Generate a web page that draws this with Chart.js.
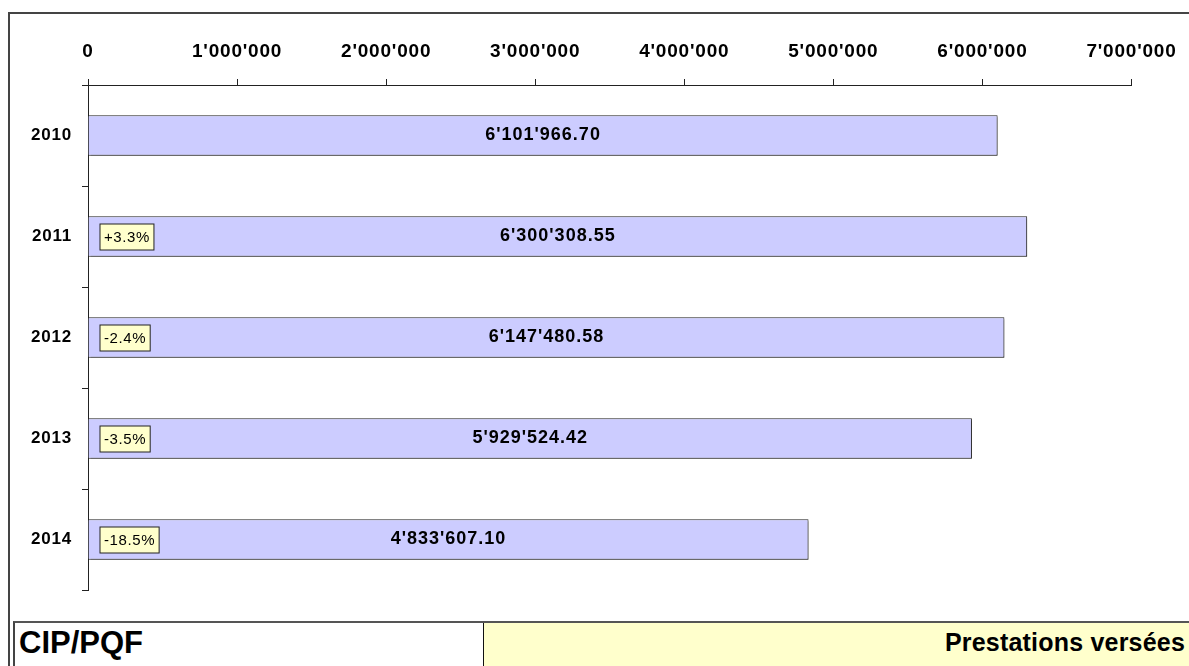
<!DOCTYPE html>
<html lang="fr">
<head>
<meta charset="UTF-8">
<title>CIP/PQF - Prestations versées</title>
<script src="https://cdn.jsdelivr.net/npm/chart.js"></script>
<style>
    body { margin: 0; background: #fff; font-family: "Liberation Sans", Arial, sans-serif; }
    #page { position: relative; width: 1189px; height: 666px; overflow: hidden; }
    #frame { position: absolute; left: 8px; top: 12px; width: 1200px; height: 700px;
             border-top: 2px solid #444; border-left: 2px solid #444; }
    #chart { position: absolute; left: 0; top: 0; }
    #footer { position: absolute; left: 13px; top: 621px; width: 1200px; height: 60px;
              border-top: 2px solid #555; border-left: 2px solid #444; display: flex; }
    #footer .left { width: 468px; background: #fff; font-weight: bold; font-size: 31px;
                    padding: 2px 0 0 4px; box-sizing: border-box; }
    #footer .right { width: 706px; background: #ffffcc; border-left: 1px solid #111;
                     font-weight: bold; font-size: 25px; letter-spacing: 0.2px; text-align: right;
                     padding: 5px 4px 0 0; box-sizing: border-box; }
</style>
</head>
<body>
<div id="page">
    <div id="frame"></div>
    <canvas id="chart" width="1189" height="666"></canvas>
    <div id="footer">
        <div class="left">CIP/PQF</div>
        <div class="right">Prestations versées</div>
    </div>
</div>

<script>
    // values
    const years = ['2010', '2011', '2012', '2013', '2014'];
    const amounts = [6101966.70, 6300308.55, 6147480.58, 5929524.42, 4833607.10];
    const changes = ['', '+3.3%', '-2.4%', '-3.5%', '-18.5%'];
    const axisTicks = [0, 1000000, 2000000, 3000000, 4000000, 5000000, 6000000, 7000000];

    // swiss style thousands: 6'101'966.70
    function swiss(v, dec) {
        const parts = v.toFixed(dec).split('.');
        parts[0] = parts[0].replace(/\B(?=(\d{3})+(?!\d))/g, "'");
        return parts.join('.');
    }

    // the original text is drawn a bit wide, spread the letters a little
    const spacingPlugin = {
        id: 'spacing',
        beforeDraw(chart) { chart.ctx.letterSpacing = '0.8px'; }
    };

    // bar shadow
    const shadowPlugin = {
        id: 'barShadow',
        beforeDatasetDraw(chart) {
            const ctx = chart.ctx;
            ctx.save();
            ctx.shadowColor = 'rgba(0,0,0,0.25)';
            ctx.shadowOffsetX = 2;
            ctx.shadowOffsetY = 2;
        },
        afterDatasetDraw(chart) {
            chart.ctx.restore();
        }
    };

    // value in the middle of the bar + yellow change box at its left
    const labelPlugin = {
        id: 'barLabels',
        afterDatasetsDraw(chart) {
            const ctx = chart.ctx;
            const meta = chart.getDatasetMeta(0);
            ctx.save();
            meta.data.forEach((bar, i) => {
                const mid = (bar.base + bar.x) / 2;
                ctx.letterSpacing = '1px';
                ctx.font = 'bold 18px "Liberation Sans", Arial';
                ctx.fillStyle = '#000';
                ctx.textAlign = 'center';
                ctx.textBaseline = 'middle';
                ctx.fillText(swiss(amounts[i], 2), mid, bar.y);

                if (changes[i]) {
                    ctx.letterSpacing = '0.6px';
                    ctx.font = '15px "Liberation Sans", Arial';
                    const w = ctx.measureText(changes[i]).width + 8;
                    const bx = bar.base + 11.5, by = bar.y - 12.5;
                    ctx.fillStyle = '#ffffcc';
                    ctx.fillRect(bx, by, w, 26);
                    ctx.strokeStyle = '#222';
                    ctx.lineWidth = 1;
                    ctx.strokeRect(bx, by, w, 26);
                    ctx.fillStyle = '#000';
                    ctx.textAlign = 'left';
                    ctx.fillText(changes[i], bx + 4, by + 13.5);
                }
            });
            ctx.restore();
        }
    };

    const chart = new Chart(document.getElementById('chart'), {
        type: 'bar',
        data: {
            labels: years,
            datasets: [{
                data: amounts,
                backgroundColor: '#ccccff',
                borderColor: '#222',
                borderWidth: 1,
                barPercentage: 0.4,
                categoryPercentage: 1
            }]
        },
        options: {
            indexAxis: 'y',
            responsive: false,
            animation: false,
            layout: { padding: { left: 0, right: 57, top: 0, bottom: 76 } },
            plugins: {
                legend: { display: false },
                tooltip: { enabled: false }
            },
            scales: {
                x: {
                    position: 'top',
                    min: 0,
                    max: 7000000,
                    afterFit(scale) { scale.height = 85; },
                    afterBuildTicks(scale) { scale.ticks = axisTicks.map(v => ({ value: v })); },
                    ticks: {
                        color: '#000',
                        font: { family: '"Liberation Sans", Arial', size: 19, weight: 'bold' },
                        padding: 16,
                        maxRotation: 0,
                        callback: v => swiss(v, 0)
                    },
                    grid: { drawOnChartArea: false, tickLength: 6, color: '#222' },
                    border: { color: '#222' }
                },
                y: {
                    afterFit(scale) { scale.width = 88; },
                    ticks: {
                        color: '#000',
                        font: { family: '"Liberation Sans", Arial', size: 17, weight: 'bold' },
                        padding: 10
                    },
                    grid: { drawOnChartArea: false, tickLength: 6, color: '#222', offset: true },
                    border: { color: '#222' }
                }
            }
        },
        plugins: [spacingPlugin, shadowPlugin, labelPlugin]
    });
</script>
</body>
</html>
